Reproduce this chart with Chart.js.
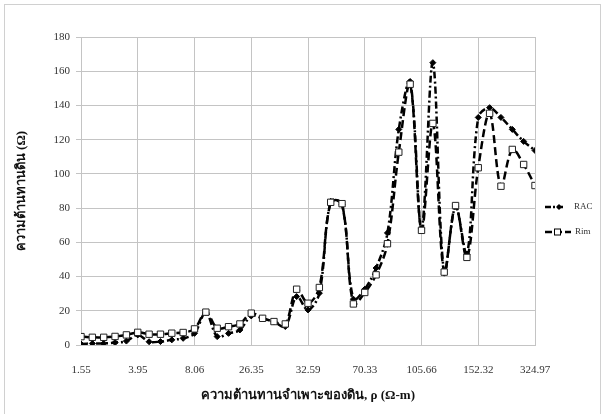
<!DOCTYPE html>
<html>
<head>
<meta charset="utf-8">
<script src="https://cdn.jsdelivr.net/npm/chart.js@4/dist/chart.umd.min.js"></script>
<style>
  html, body { margin: 0; padding: 0; background: #fff; }
  #wrap { width: 601px; height: 414px; }
</style>
</head>
<body>
<div id="wrap"><canvas id="chart" width="601" height="414"></canvas></div>
<script>
// tick labels shown every 5th category (41 categories)
const xTickLabels = ["1.55", "3.95", "8.06", "26.35", "32.59", "70.33", "105.66", "152.32", "324.97"];
const tickStep = 5;

const racValues = [0.6, 0.9, 0.9, 1.4, 2.3, 5.9, 1.9, 2, 3, 3.9, 6.8, 19, 4.9, 6.8, 8.8,
  17, 15.6, 13.5, 10.8, 28.3, 20.5, 30.3, 84, 82, 26.8, 32.6, 45, 65.5, 126, 154,
  68, 165, 42, 81, 53, 133, 138.7, 133, 126, 119, 113.7];
const rimValues = [4.9, 4.5, 4.5, 5, 5.9, 7.4, 6.3, 6.3, 6.9, 7.3, 9.4, 19.2, 9.8, 10.7, 12.3,
  18.6, 15.6, 13.7, 12.3, 32.6, 24.4, 33.6, 83.4, 82.6, 24, 30.7, 41, 59.2, 112.7, 152.4,
  67, 129.5, 42.6, 81.5, 51.2, 103.6, 135.4, 92.8, 114.3, 105.5, 93.2];

const serif = "'Liberation Serif', 'DejaVu Serif', serif";
const gridColor = "#c4c4c4";

function toPoints(arr) {
  return arr.map((v, i) => ({ x: i, y: v }));
}

// white background + outer frame
const frame = {
  id: "frame",
  beforeDraw(chart) {
    const ctx = chart.ctx;
    ctx.save();
    ctx.fillStyle = "#fff";
    ctx.fillRect(0, 0, chart.width, chart.height);
    ctx.strokeStyle = "#d0d0d0";
    ctx.lineWidth = 1;
    ctx.strokeRect(4.5, 4.5, chart.width - 5, chart.height + 10);
    ctx.restore();
  },
};

// excel-like legend: dashed line with marker, on the right
const sideLegend = {
  id: "sideLegend",
  afterDraw(chart) {
    const ctx = chart.ctx;
    ctx.save();
    ctx.strokeStyle = "#000";
    ctx.lineWidth = 2.5;
    // RAC
    let y = 207;
    ctx.setLineDash([6, 2, 2, 2]);
    ctx.beginPath(); ctx.moveTo(545, y); ctx.lineTo(563, y); ctx.stroke();
    ctx.setLineDash([]);
    ctx.fillStyle = "#000";
    ctx.beginPath();
    ctx.moveTo(559, y - 3); ctx.lineTo(562, y); ctx.lineTo(559, y + 3); ctx.lineTo(556, y);
    ctx.closePath(); ctx.fill();
    // Rim
    y = 232;
    ctx.setLineDash([7, 3]);
    ctx.beginPath(); ctx.moveTo(545, y); ctx.lineTo(571, y); ctx.stroke();
    ctx.setLineDash([]);
    ctx.fillStyle = "#fff";
    ctx.fillRect(554, y - 3.5, 7, 7);
    ctx.lineWidth = 1;
    ctx.strokeRect(554.5, y - 3, 6, 6);
    ctx.fillStyle = "#333";
    ctx.font = "9px " + serif;
    ctx.textBaseline = "middle";
    ctx.fillText("RAC", 574, 207);
    ctx.fillText("Rim", 575, 232);
    ctx.restore();
  },
};

new Chart(document.getElementById("chart"), {
  type: "line",
  data: {
    datasets: [
      {
        label: "RAC",
        data: toPoints(racValues),
        borderColor: "#000",
        borderWidth: 2.5,
        borderDash: [7, 3, 2, 3],
        tension: 0.35,
        pointStyle: "rectRot",
        pointRadius: 3,
        pointBackgroundColor: "#000",
        pointBorderColor: "#000",
        pointBorderWidth: 1,
        order: 2,
      },
      {
        label: "Rim",
        data: toPoints(rimValues),
        borderColor: "#000",
        borderWidth: 2.5,
        borderDash: [8, 4],
        tension: 0.35,
        pointStyle: "rect",
        pointRadius: 4.5,
        pointBackgroundColor: "#fff",
        pointBorderColor: "#222",
        pointBorderWidth: 1,
        order: 1,
      },
    ],
  },
  options: {
    responsive: false,
    animation: false,
    layout: { padding: { top: 37, right: 66, left: 0, bottom: 0 } },
    plugins: {
      legend: { display: false },
      tooltip: { enabled: false },
    },
    scales: {
      x: {
        type: "linear",
        min: 0,
        max: (xTickLabels.length - 1) * tickStep,
        afterFit(s) { s.height = 69; },
        grid: { color: gridColor, drawTicks: false },
        border: { color: gridColor },
        ticks: {
          stepSize: tickStep,
          padding: 19,
          color: "#333",
          font: { family: serif, size: 11 },
          callback: (v) => xTickLabels[v / tickStep],
        },
        title: {
          display: true,
          text: "ความต้านทานจำเพาะของดิน, ρ (Ω-m)",
          color: "#111",
          font: { family: serif, size: 13, weight: "bold" },
          padding: { top: 2, bottom: 11 },
        },
      },
      y: {
        min: 0,
        max: 180,
        afterFit(s) { s.width = 81; },
        grid: { color: gridColor, tickLength: 5 },
        border: { color: gridColor },
        ticks: {
          stepSize: 20,
          padding: 6,
          color: "#333",
          font: { family: serif, size: 11 },
        },
        title: {
          display: true,
          text: "ความต้านทานดิน (Ω)",
          color: "#111",
          font: { family: serif, size: 13, weight: "bold" },
          padding: { top: 14, bottom: 4 },
        },
      },
    },
  },
  plugins: [frame, sideLegend],
});
</script>
</body>
</html>
